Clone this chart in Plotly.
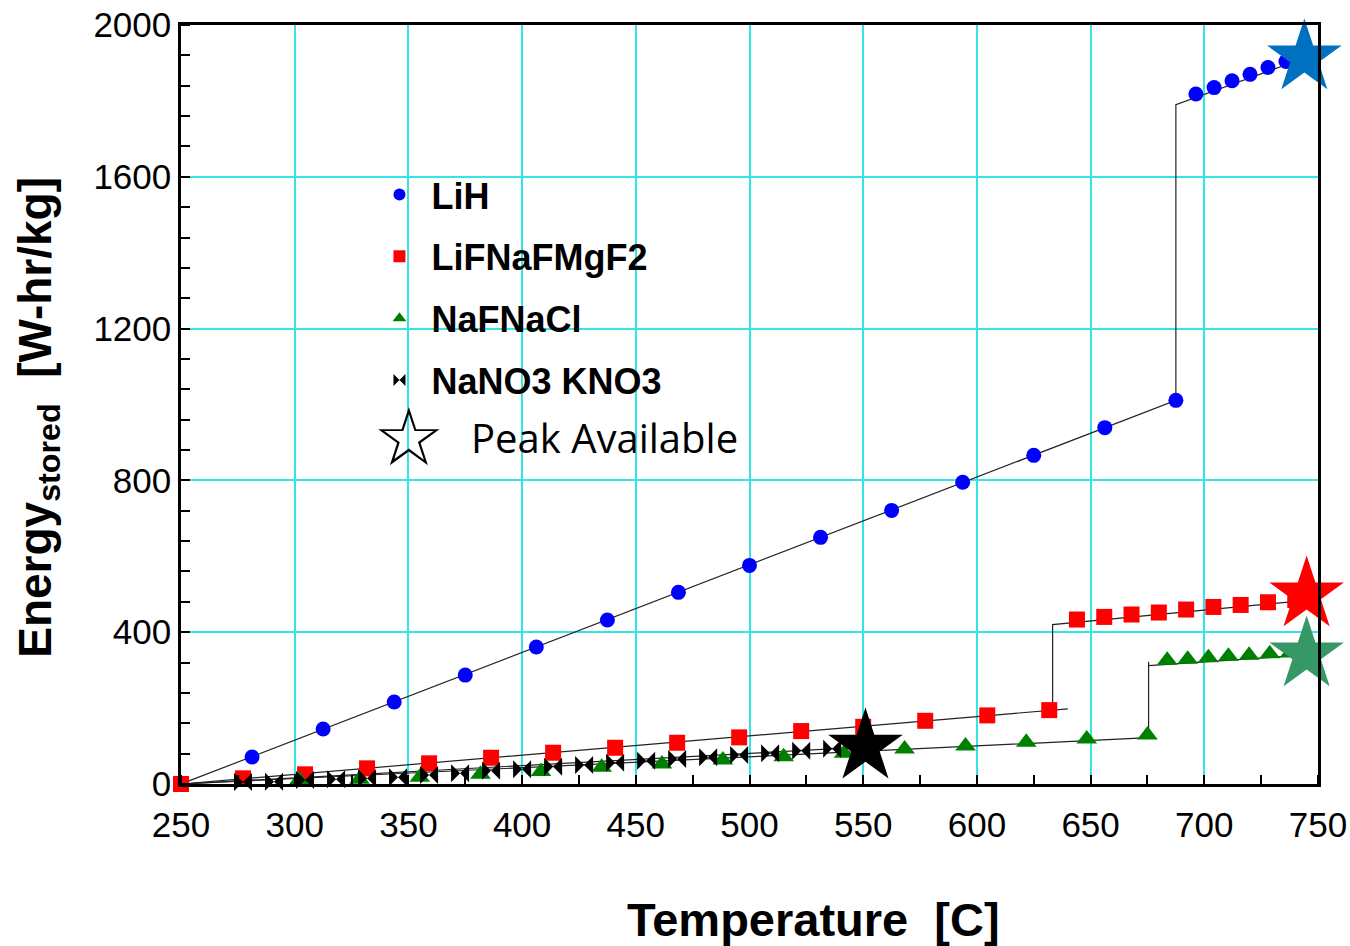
import plotly.graph_objects as go

# ---------------- data ----------------
lih_x = [250, 281.25, 312.5, 343.75, 375, 406.25, 437.5, 468.75, 500, 531.25, 562.5,
         593.75, 625, 656.25, 687.5, 696.3, 704.3, 712.2, 720.1, 728, 735.9, 743.8]
lih_y = [0, 71, 145, 216, 287, 361, 432, 505, 576, 650, 721,
         795, 866, 939, 1011, 1818, 1835, 1853, 1870, 1888, 1904, 1920]

lif_x = [250, 277.27, 304.55, 331.82, 359.09, 386.36, 413.64, 440.91, 468.18, 495.45,
         522.73, 550, 577.27, 604.55, 631.82, 644, 656, 668, 680, 692, 704, 716, 728, 740]
lif_y = [0, 15, 25.5, 41.3, 54.5, 69.2, 82.4, 95.5, 108.7, 122.9,
         139.5, 150.8, 166.6, 180.8, 194.7, 433.4, 440.3, 446.6, 451.8, 459.7, 466.6, 471.8, 478.9, 485]

naf_x = [302, 328.5, 355, 381.7, 408.3, 435, 461.5, 488.3, 515, 541.6, 568.2, 595,
         621.7, 648.3, 675, 683.7, 692.7, 701.8, 710.6, 719.7, 728.8, 737.7]
naf_y = [10.5, 12.4, 17.6, 25.5, 33, 44, 52.6, 63.2, 71.8, 80.8, 92.1, 100,
         109.7, 118.4, 129, 326.3, 329, 332.4, 336.8, 339.5, 342.9, 345.5]

nano_x = [277.27, 290.91, 304.55, 318.18, 331.82, 345.45, 359.09, 372.73, 386.36, 400,
          413.64, 427.27, 440.91, 454.55, 468.18, 481.82, 495.45, 509.09, 522.73, 536.36, 550]
nano_y = [5, 6, 10.5, 12.4, 15, 18, 23.7, 28.2, 35, 38.7,
          45.5, 50, 56, 61.3, 65.8, 70.3, 76.3, 80.8, 87.6, 92.9, 97]

# trend lines (with melt steps)
lih_line_x = [250, 687.5, 687.5, 745]
lih_line_y = [0, 1011, 1790, 1915]
lif_line_x = [250, 640, None, 633.3, 633.3, 745]
lif_line_y = [0, 198, None, 194, 420, 484]
naf_line_x = [250, 675.5, 675.5, None, 675.5, 745]
naf_line_y = [0, 122, 322, None, 312, 340]
nano_line_x = [250, 550]
nano_line_y = [0, 97]

# peak available stars
peak_x = [744, 745, 745, 551]
peak_y = [1914, 499, 341, 98]
peak_colors = ["#0070C0", "#FF0000", "#379867", "#000000"]

series_names = ["LiH", "LiFNaFMgF2", "NaFNaCl", "NaNO3 KNO3"]
x_ticks = [250, 300, 350, 400, 450, 500, 550, 600, 650, 700, 750]
y_ticks = [0, 400, 800, 1200, 1600, 2000]

# ---------------- figure ----------------
FONT = "Liberation Sans, Arial, sans-serif"
fig = go.Figure()

for lx, ly in [(lih_line_x, lih_line_y), (lif_line_x, lif_line_y),
               (naf_line_x, naf_line_y), (nano_line_x, nano_line_y)]:
    fig.add_trace(go.Scatter(x=lx, y=ly, mode="lines", showlegend=False,
                             line=dict(color="#222222", width=1.2), hoverinfo="skip"))

specs = [
    (lih_x, lih_y, "circle", "#0000FF", 15),
    (lif_x, lif_y, "square", "#FF0000", 16),
    (naf_x, naf_y, "triangle-up", "#008000", 18),
    (nano_x, nano_y, "bowtie", "#000000", 18),
]
for i, (sx, sy, sym, col, sz) in enumerate(specs):
    fig.add_trace(go.Scatter(
        x=sx, y=sy, mode="markers", name="<b>" + series_names[i] + "</b>",
        legendgroup=series_names[i],
        marker=dict(symbol=sym, color=col, size=sz, line=dict(width=0)),
        cliponaxis=False,
    ))

fig.add_trace(go.Scatter(
    x=peak_x, y=peak_y, mode="markers", showlegend=False,
    marker=dict(symbol="star", size=56, color=peak_colors, line=dict(width=0)),
    cliponaxis=False,
))

axis_common = dict(
    showline=True, linecolor="black", linewidth=2.5, mirror=True,
    showgrid=True, gridcolor="#33E6E6", gridwidth=1.5, zeroline=False,
    ticks="", tickfont=dict(family=FONT, size=35, color="black"),
    automargin=False, ticklabeloverflow="allow",
)

fig.update_xaxes(range=[250, 750], tickvals=x_ticks,
                 minor=dict(dtick=25, tick0=250, ticks="inside", ticklen=9,
                            tickwidth=1.5, tickcolor="black", showgrid=False),
                 ticklabelstandoff=8, **axis_common)
fig.update_yaxes(range=[0, 2000], tickvals=y_ticks,
                 minor=dict(dtick=80, tick0=0, ticks="inside", ticklen=9,
                            tickwidth=1.5, tickcolor="black", showgrid=False),
                 ticklabelstandoff=0, **axis_common)

fig.update_layout(
    width=1350, height=946,
    margin=dict(l=181, r=32, t=25, b=162),
    paper_bgcolor="white", plot_bgcolor="white",
    font=dict(family=FONT, color="black"),
    showlegend=True,
    legend=dict(
        x=0.164, y=0.816, xanchor="left", yanchor="top",
        bgcolor="rgba(0,0,0,0)", borderwidth=0,
        font=dict(family=FONT, size=36, color="black"),
        itemsizing="constant", itemwidth=54, traceorder="grouped", tracegroupgap=12,
    ),
    annotations=[
        dict(text="<b>Temperature\u00a0\u00a0[C]</b>", xref="paper", yref="paper",
             x=0.556, y=-0.179, xanchor="center", yanchor="middle", showarrow=False,
             font=dict(family=FONT, size=47, color="black")),
        dict(text="<b>Energy<sub>stored</sub>\u00a0\u00a0[W-hr/kg]</b>", xref="paper", yref="paper",
             x=-0.126, y=0.4835, xanchor="center", yanchor="middle", showarrow=False,
             textangle=-90, font=dict(family=FONT, size=46, color="black")),
        dict(text="\u2606", xref="paper", yref="paper",
             x=0.2005, y=0.457, xanchor="center", yanchor="middle", showarrow=False,
             font=dict(family="DejaVu Sans", size=80, color="black")),
        dict(text="Peak Available", xref="paper", yref="paper",
             x=0.253, y=0.457, xanchor="left", yanchor="middle", showarrow=False,
             font=dict(family="Open Sans", size=40, color="black")),
    ],
)

# remove the default page margin so the 1350x946 figure fills the window exactly
fig.write_html("out.html", config={"displayModeBar": False},
               post_script="document.body.style.margin='0px';document.body.style.overflow='hidden';")
